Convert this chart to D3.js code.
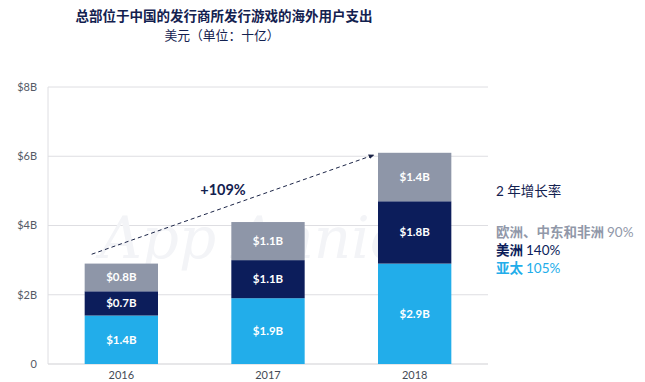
<!DOCTYPE html>
<html>
<head>
<meta charset="utf-8">
<script src="https://cdn.jsdelivr.net/npm/d3@7"></script>
<style>
  body { margin: 0; background: #fff; }
  svg { display: block; font-family: Lato, "Noto Sans CJK SC", sans-serif; }
</style>
</head>
<body>
<div id="chart"></div>
<script>
// data
var years = ["2016", "2017", "2018"];
var seriesNames = ["亚太", "美洲", "欧洲、中东和非洲"];
var apac = [1.4, 1.9, 2.9];
var americas = [0.7, 1.1, 1.8];
var emea = [0.8, 1.1, 1.4];
var growth = ["105%", "140%", "90%"];
var yTicks = [0, 2, 4, 6, 8];
var colors = ["#22adea", "#0c1d5b", "#8e96a8"];

var width = 645, height = 382;
var svg = d3.select("#chart").append("svg")
    .attr("width", width)
    .attr("height", height);

var x = d3.scaleBand()
    .domain(years)
    .range([48, 488])
    .paddingInner(0.5)
    .paddingOuter(0.25);

var y = d3.scaleLinear()
    .domain([0, 8])
    .range([364, 87]);

// title
svg.append("text")
    .attr("x", 224).attr("y", 21)
    .attr("text-anchor", "middle")
    .style("font-size", "13.5px").style("font-weight", "bold")
    .style("fill", "#13214f")
    .text("总部位于中国的发行商所发行游戏的海外用户支出");
svg.append("text")
    .attr("x", 222).attr("y", 40)
    .attr("text-anchor", "middle")
    .style("font-size", "12.8px")
    .style("fill", "#13214f")
    .text("美元（单位：十亿）");

// gridlines
svg.append("g").selectAll("line")
    .data(yTicks)
    .enter().append("line")
    .attr("x1", 48).attr("x2", 488)
    .attr("y1", function (d) { return y(d); })
    .attr("y2", function (d) { return y(d); })
    .style("stroke", function (d) { return d === 0 ? "#cfcfd3" : "#dedee2"; })
    .style("stroke-width", 1);

svg.append("line")
    .attr("x1", 48).attr("x2", 48)
    .attr("y1", y(8)).attr("y2", y(0))
    .style("stroke", "#dedee2");

// y tick labels
svg.append("g").selectAll("text")
    .data(yTicks)
    .enter().append("text")
    .attr("x", 37)
    .attr("y", function (d) { return y(d); })
    .attr("dy", "0.35em")
    .attr("text-anchor", "end")
    .style("font-size", "11px")
    .style("fill", "#555a66")
    .text(function (d) { return d === 0 ? "0" : "$" + d + "B"; });

// watermark
svg.append("text")
    .attr("x", 252).attr("y", 258)
    .attr("text-anchor", "middle")
    .style("font-size", "58px").style("font-style", "italic")
    .style("font-family", "'DejaVu Serif', serif")
    .style("fill", "#f3f4f7")
    .text("App Annie");

// stack
var table = years.map(function (yr, i) {
    return { year: yr, a: apac[i], b: americas[i], c: emea[i] };
});
var stack = d3.stack().keys(["a", "b", "c"])(table);

var layer = svg.append("g").selectAll("g")
    .data(stack)
    .enter().append("g")
    .style("fill", function (d, i) { return colors[i]; });

layer.selectAll("rect")
    .data(function (d) { return d; })
    .enter().append("rect")
    .attr("x", function (d) { return x(d.data.year); })
    .attr("width", x.bandwidth())
    .attr("y", function (d) { return y(d[1]); })
    .attr("height", function (d) { return y(d[0]) - y(d[1]); });

layer.selectAll("text")
    .data(function (d) { return d; })
    .enter().append("text")
    .attr("x", function (d) { return x(d.data.year) + x.bandwidth() / 2; })
    .attr("y", function (d) { return (y(d[0]) + y(d[1])) / 2; })
    .attr("dy", "0.35em")
    .attr("text-anchor", "middle")
    .style("fill", "#fff")
    .style("font-size", "11.5px").style("font-weight", "bold")
    .text(function (d) { return "$" + (d[1] - d[0]).toFixed(1) + "B"; });

// x labels
svg.append("g").selectAll("text")
    .data(years)
    .enter().append("text")
    .attr("x", function (d) { return x(d) + x.bandwidth() / 2; })
    .attr("y", 379)
    .attr("text-anchor", "middle")
    .style("font-size", "11px")
    .style("fill", "#444a55")
    .text(function (d) { return d; });

// growth arrow
svg.append("defs").append("marker")
    .attr("id", "arrow")
    .attr("viewBox", "0 0 10 10")
    .attr("refX", 9).attr("refY", 5)
    .attr("markerWidth", 6).attr("markerHeight", 6)
    .attr("orient", "auto")
    .append("path")
    .attr("d", "M0,1L10,5L0,9Z")
    .style("fill", "#1c2547");

svg.append("line")
    .attr("x1", x("2016") + 7).attr("y1", y(3.17))
    .attr("x2", x("2018") - 4).attr("y2", y(6.04))
    .style("stroke", "#1c2547")
    .style("stroke-width", 1)
    .style("stroke-dasharray", "4,3")
    .attr("marker-end", "url(#arrow)");

svg.append("text")
    .attr("x", 223).attr("y", 195)
    .attr("text-anchor", "middle")
    .style("font-size", "14.5px").style("font-weight", "bold")
    .style("fill", "#13214f")
    .text("+109%");

// legend
svg.append("text")
    .attr("x", 496).attr("y", 196)
    .style("font-size", "13.5px")
    .style("fill", "#13214f")
    .text("2 年增长率");

var legendColors = ["#22adea", "#0c1d5b", "#9198a9"];
var legendRows = [2, 1, 0];
var legend = svg.append("g").selectAll("text")
    .data(legendRows)
    .enter().append("text")
    .attr("x", 496)
    .attr("y", function (d, i) { return 237 + i * 18; })
    .style("font-size", "13.5px")
    .style("fill", function (d) { return legendColors[d]; });
legend.append("tspan")
    .style("font-weight", "bold")
    .text(function (d) { return seriesNames[d]; });
legend.append("tspan")
    .attr("dx", 3)
    .text(function (d) { return growth[d]; });
</script>
</body>
</html>
